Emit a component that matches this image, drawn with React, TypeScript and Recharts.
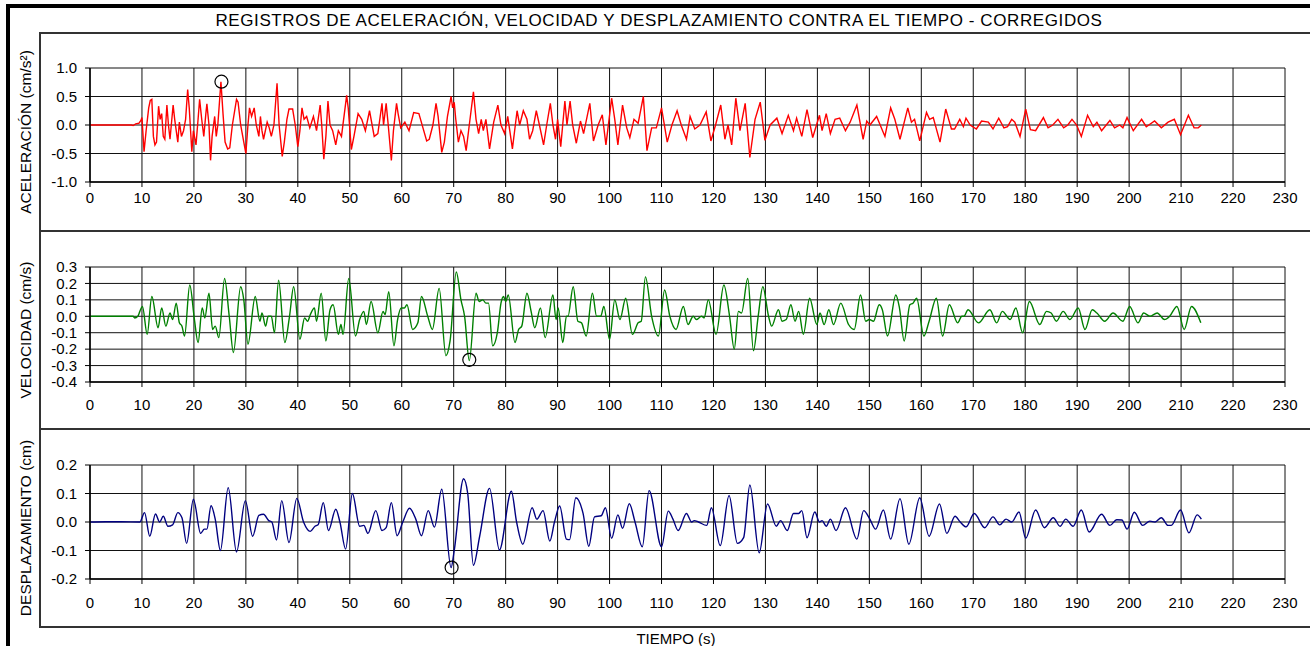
import React from "react"
import {
  LineChart,
  Line,
  XAxis,
  YAxis,
  CartesianGrid,
  ReferenceDot,
} from "recharts"

const FONT = "'Liberation Sans', Arial, sans-serif"

const timeTicks = [0, 10, 20, 30, 40, 50, 60, 70, 80, 90, 100, 110, 120, 130, 140, 150, 160, 170, 180, 190, 200, 210, 220, 230]
const accTicks = [-1, -0.5, 0, 0.5, 1]
const velTicks = [-0.4, -0.3, -0.2, -0.1, 0, 0.1, 0.2, 0.3]
const dispTicks = [-0.2, -0.1, 0, 0.1, 0.2]

// [tiempo (s), valor]
const accel: [number, number][] = [
  [0, 0], [8, 0], [8.3, -0.01], [8.8, 0.02], [9.4, 0.03], [9.8, 0.08], [10, 0.13], [10.4, -0.47], [10.8, -0.1],
  [11.3, 0.3], [11.6, 0.43], [11.9, 0.45], [12.2, -0.2], [12.5, -0.35], [12.8, -0.3], [13.2, 0.33], [13.5, 0.1],
  [13.8, 0.2], [14.1, -0.2], [14.4, -0.25], [14.8, 0.35], [15.1, 0], [15.4, -0.25], [16, 0.35], [16.3, 0.1],
  [16.9, -0.3], [17.2, 0.05], [17.6, -0.2], [18, -0.1], [18.4, 0.1], [18.8, 0.62], [19.1, 0.3], [19.6, -0.47],
  [19.9, -0.1], [20.4, -0.35], [20.8, 0.1], [21.1, 0.45], [21.5, 0.1], [21.9, -0.2], [22.3, 0.2], [22.5, 0.37],
  [22.9, 0], [23.2, -0.62], [23.5, -0.2], [24, 0.15], [24.3, -0.2], [24.6, 0], [25.2, 0.76], [25.6, 0.2],
  [26, -0.3], [26.5, -0.42], [26.9, -0.4], [27.4, 0], [28.2, 0.45], [28.5, 0.4], [29, 0], [29.6, -0.3],
  [30, -0.5], [30.4, 0], [30.7, 0.3], [31.1, 0.15], [31.6, 0.3], [32, 0], [32.5, -0.2], [32.8, 0.15],
  [33.1, -0.1], [33.4, -0.25], [34.1, 0.05], [34.5, -0.05], [34.9, -0.2], [35.4, 0], [36, 0.73], [36.4, 0],
  [37, -0.55], [37.4, -0.3], [37.9, 0.1], [38.3, 0.28], [39, 0.28], [39.5, 0], [40, -0.38], [40.4, -0.1],
  [40.8, 0.3], [41.2, 0.1], [41.7, 0.15], [42.3, -0.05], [43, 0.15], [43.6, -0.1], [44.3, 0.35], [44.6, 0],
  [45, -0.6], [45.4, -0.2], [45.8, 0.42], [46.2, 0], [46.7, -0.1], [47.3, -0.35], [47.8, -0.1], [48.4, -0.2],
  [49.4, 0.52], [49.7, 0.3], [50.3, -0.43], [50.8, -0.2], [51.6, 0.2], [52.3, 0.1], [53, -0.1], [53.8, 0.25],
  [54.3, 0], [54.7, -0.2], [55.4, -0.15], [56.2, 0.38], [56.5, 0], [57, 0.38], [57.4, 0], [58, -0.62],
  [58.4, -0.1], [59, 0.38], [59.3, 0.2], [59.8, -0.05], [60.6, 0.05], [61.4, -0.1], [62.3, 0.22], [63.3, 0.2],
  [64.8, -0.28], [65.3, -0.25], [66, 0], [66.6, 0.38], [67, 0.15], [67.7, -0.48], [68.2, -0.3], [68.8, 0.15],
  [69.5, 0.5], [69.8, 0.3], [70.1, 0.4], [70.4, 0.1], [70.9, -0.3], [71.4, -0.1], [71.9, -0.2], [72.4, -0.45],
  [73, 0], [73.8, 0.58], [74.3, 0.1], [74.8, -0.15], [75.3, 0.1], [75.7, -0.1], [76.2, 0.1], [76.9, -0.42],
  [77.7, 0.05], [78.5, 0.35], [79.1, 0], [79.8, -0.15], [80.4, 0.15], [81.3, -0.42], [82.2, 0.25], [82.7, 0],
  [83.4, 0.25], [84.1, 0.1], [84.6, -0.25], [85.2, -0.1], [85.9, 0.25], [86.5, 0], [87.3, -0.35], [87.9, 0],
  [88.6, 0.38], [89.1, 0], [89.6, -0.25], [90, 0.1], [90.6, -0.38], [91.4, 0.42], [91.8, 0], [92.4, 0.42],
  [92.9, 0], [93.6, -0.32], [94.4, 0.07], [95, -0.15], [96.2, 0.38], [96.9, -0.28], [97.8, 0], [98.6, 0.18],
  [99.3, -0.35], [100.4, 0.47], [101, 0.1], [101.6, -0.35], [102.5, 0.35], [103.3, -0.05], [103.9, -0.22],
  [104.7, 0.1], [105.5, 0.03], [106.5, 0.5], [107.2, -0.45], [108.1, -0.05], [109, -0.05], [110, 0.3],
  [111.1, -0.3], [112, 0], [113, 0.25], [113.8, 0], [114.8, -0.25], [115.5, 0.15], [116.4, -0.07], [117.4, 0],
  [118.6, 0.23], [119.5, -0.28], [120.4, 0], [121.4, 0.35], [122.2, -0.25], [122.8, 0], [123.5, -0.35],
  [124.3, 0.47], [125.1, -0.1], [126.1, 0.38], [127, -0.57], [128, 0.1], [129, 0.4], [129.9, -0.27], [130.9, 0],
  [132.2, 0.12], [133.2, -0.15], [134.4, 0.17], [135.4, -0.1], [136, 0.12], [137, -0.2], [138, 0.27],
  [139.1, -0.22], [140.4, 0.17], [140.9, -0.1], [141.7, 0.2], [142.5, -0.15], [143.4, 0.1], [144.3, 0.12],
  [145.4, -0.1], [146.3, 0.05], [147.6, 0.35], [148.8, -0.25], [149.5, 0.07], [150.1, 0], [151.4, 0.15],
  [153, -0.2], [154.1, 0.3], [154.9, 0.1], [155.9, -0.25], [157.4, 0.3], [158.1, 0.05], [158.7, 0.1],
  [159.7, -0.28], [161, 0.22], [161.6, 0.1], [162.3, 0.13], [163.6, -0.3], [164.7, 0.28], [165.8, -0.07],
  [166.4, -0.07], [167.4, 0.1], [168.1, -0.03], [168.6, 0.12], [169.4, 0], [170.6, -0.07], [171.6, 0.07],
  [172.9, 0.05], [173.8, -0.07], [174.9, 0.12], [175.9, -0.05], [176.6, -0.03], [177.4, 0.1], [178, 0.05],
  [179, -0.2], [180.1, 0.28], [181, -0.08], [182, -0.1], [183.5, 0.13], [184.4, -0.05], [185.3, 0],
  [186.3, 0.1], [187.4, -0.05], [188.2, 0], [189, 0.1], [189.9, 0], [190.8, -0.2], [192, 0.17], [193.1, -0.03],
  [193.8, 0.05], [194.7, -0.1], [196.3, 0.08], [197.2, -0.05], [198.2, 0], [198.8, -0.05], [199.6, 0.13],
  [200.8, -0.1], [202.4, 0.1], [203.3, -0.03], [204.9, 0.07], [206.2, -0.05], [207.5, 0.05], [208.7, 0.1],
  [209.9, -0.17], [211.4, 0.17], [212.5, -0.05], [213.3, -0.05], [213.9, 0],
]

const veloc: [number, number][] = [
  [0, 0], [8.3, 0], [8.6, -0.01], [9.2, 0], [9.6, 0.03], [10.1, 0.06], [11, -0.11], [11.9, 0.12], [13.1, -0.07],
  [13.8, 0.05], [14.6, -0.06], [15.4, 0.02], [15.9, -0.02], [16.6, 0.08], [17.2, -0.04], [17.7, -0.06],
  [18.2, -0.12], [19.2, 0.19], [20.1, -0.02], [20.8, -0.16], [21.6, 0.05], [22.1, -0.01], [22.9, 0.14],
  [23.6, -0.08], [24.1, -0.06], [24.8, -0.13], [25.9, 0.23], [26.8, 0], [27.6, -0.22], [29, 0.18], [29.6, 0.1],
  [30.4, -0.17], [31.8, 0.12], [32.7, -0.03], [33.1, 0.02], [33.8, -0.06], [34.3, 0], [34.9, 0], [35.5, -0.1],
  [36.3, 0.22], [37.5, -0.16], [38.4, 0], [39.2, 0.18], [40.4, -0.14], [41.3, -0.01], [41.9, -0.03],
  [42.4, 0.01], [43.2, 0.05], [43.6, -0.03], [44.5, 0.14], [45.4, -0.15], [46.2, 0.04], [46.8, 0.07],
  [47.8, -0.11], [48.3, -0.05], [48.7, -0.11], [49.8, 0.23], [51.1, -0.12], [51.9, -0.02], [52.7, 0.03],
  [53.2, -0.05], [54.1, 0.09], [55.4, -0.1], [56.4, 0.03], [56.8, 0.01], [57.5, 0.15], [58.5, -0.18],
  [59.2, -0.02], [59.9, 0.05], [60.5, 0.05], [61, 0.07], [62.1, -0.08], [63.1, -0.04], [63.8, 0.12], [65, 0],
  [65.9, -0.08], [67.2, 0.17], [68.5, -0.24], [69.3, -0.15], [70.5, 0.27], [71.4, 0.1], [72.1, 0], [73, -0.27],
  [74.3, 0.14], [74.9, 0.09], [75.6, 0.1], [76.2, 0.08], [76.7, 0.08], [77.5, -0.18], [78.4, -0.1], [79.1, 0.08],
  [79.6, 0.12], [80, 0.09], [80.5, 0.13], [81.8, -0.16], [82.5, -0.08], [83.1, -0.06], [84.1, 0.14], [84.9, 0.03],
  [85.6, -0.07], [86.7, 0.05], [87.6, -0.13], [89.1, 0.13], [89.7, -0.02], [90.1, 0.05], [91, -0.16], [91.7, 0],
  [92, 0], [93, 0.18], [93.9, -0.03], [94.6, -0.04], [95.5, -0.12], [96.7, 0.14], [97.5, 0], [98.3, 0],
  [98.9, 0.06], [100, -0.14], [101, 0.1], [102, -0.02], [103.1, 0.11], [104.4, -0.11], [105.5, -0.04],
  [106.1, -0.03], [106.9, 0.24], [108.1, 0], [109.4, -0.12], [110.6, 0.16], [111.6, 0], [112.8, -0.08],
  [114.2, 0.06], [115.1, -0.05], [116.1, 0], [116.7, -0.02], [117.7, 0], [118.2, -0.01], [119, 0.1],
  [120.5, -0.11], [122, 0.19], [123.1, 0], [124, -0.2], [124.8, 0.03], [125.4, 0.02], [126.6, 0.23],
  [127.7, -0.21], [128.6, 0], [129.5, 0.18], [130.6, 0], [131.2, -0.06], [132.5, 0.04], [133.2, -0.03],
  [134, -0.02], [134.9, 0.07], [135.7, -0.03], [136.4, 0.03], [137.3, -0.11], [138.5, 0.11], [139.9, -0.05],
  [140.5, 0.02], [141.3, -0.05], [142.2, 0.04], [143.1, -0.05], [144.5, 0.08], [146, -0.05], [147.1, -0.08],
  [148.3, 0.13], [149.3, -0.03], [150, -0.02], [150.8, -0.03], [151.9, 0.07], [152.5, 0.04], [153.5, -0.12],
  [155.1, 0.13], [155.8, 0.05], [156.7, -0.15], [157.8, 0.07], [158.4, 0.08], [159.1, 0.11], [160.5, -0.12],
  [161.5, -0.03], [162.9, 0.11], [164.1, -0.12], [165.4, 0.07], [167, -0.04], [167.8, 0], [168.2, 0],
  [169, 0.04], [171, -0.04], [173.2, 0.04], [174.5, -0.04], [175.6, 0.03], [177.1, -0.02], [178.2, 0.05],
  [179.5, -0.1], [180.8, 0.09], [182.8, -0.05], [184.1, 0.03], [185, 0.02], [186, -0.03], [187.3, 0.03],
  [188.6, -0.02], [190.2, 0.05], [191.5, -0.08], [192.9, 0.04], [193.8, 0.02], [195.3, -0.03], [196.9, 0.02],
  [198.8, -0.03], [200.1, 0.06], [201.7, -0.04], [202.8, 0.02], [204, 0], [205.4, 0.02], [206.8, -0.02],
  [207.8, 0], [209.2, 0.06], [210.6, -0.08], [212, 0.06], [213.8, -0.04],
]

const despl: [number, number][] = [
  [0, 0], [3, 0.001], [6, 0.001], [9.6, 0], [10.5, 0.033], [11.5, -0.05], [12.6, 0.028], [13.4, 0], [14.1, 0.02],
  [15, -0.015], [15.9, -0.01], [16.9, 0.033], [17.7, 0.015], [18.6, -0.075], [19.9, 0.08], [21.3, -0.04],
  [22, -0.025], [22.5, -0.025], [23.3, 0.057], [24.1, 0.01], [25.1, -0.1], [26.6, 0.12], [28.2, -0.105],
  [29.9, 0.075], [31.3, -0.05], [32.5, 0.023], [33.4, 0.027], [34.4, 0.005], [35, 0], [35.9, -0.063],
  [36.9, 0.075], [38.3, -0.072], [39.8, 0.083], [41.1, 0], [42.4, -0.033], [43.3, -0.015], [43.9, -0.01],
  [44.9, 0.068], [45.9, -0.03], [47.3, 0.045], [48.1, 0], [49.2, -0.095], [50.5, 0.1], [51.9, -0.015],
  [52.7, -0.012], [53.5, -0.04], [55, 0.04], [56.2, -0.03], [57, -0.02], [58, 0.068], [59.1, -0.048], [60.2, 0],
  [61.5, 0.048], [62.7, 0.01], [63.8, -0.048], [65.1, 0.04], [66.3, -0.018], [67.7, 0.115], [69.5, -0.16],
  [70.1, -0.1], [71.9, 0.152], [72.7, 0.1], [73.8, -0.152], [75, -0.05], [76.9, 0.118], [78.8, -0.098],
  [81.1, 0.108], [82.1, 0], [83.3, -0.078], [85.1, 0.05], [86, 0.01], [87.2, 0.04], [88.5, -0.067], [89.4, 0],
  [90.4, 0.056], [91.7, -0.06], [92.3, -0.062], [93.5, 0.085], [94.9, 0.03], [96, -0.085], [97.1, 0.018],
  [98.4, 0.022], [99.2, 0.05], [100.4, -0.057], [101.6, 0.025], [102.5, -0.022], [103.8, 0.064], [104.9, 0],
  [106.3, -0.087], [107.6, 0.11], [110, -0.087], [111.3, 0.038], [112.2, 0.01], [113.2, -0.03], [114.8, 0.03],
  [115.8, 0], [116.3, 0.005], [117.1, 0], [118.7, -0.012], [119.6, 0.05], [121.3, -0.083], [123, 0.093],
  [124.6, -0.075], [125.8, -0.055], [127, 0.13], [128.8, -0.108], [130.4, 0.063], [132.1, -0.015],
  [132.9, 0.005], [134.2, -0.03], [135.4, 0.03], [136.4, 0.03], [137, 0.04], [138, -0.055], [139.5, 0.035],
  [140.4, 0], [140.9, 0.005], [141.7, -0.015], [142.5, 0.01], [143.6, -0.03], [145.4, 0.05], [147.6, -0.06],
  [148.9, 0.04], [150.1, 0.01], [151.2, -0.025], [152.7, 0.042], [154.1, -0.06], [155.9, 0.082],
  [157.6, -0.078], [159.7, 0.085], [161.5, -0.05], [163.5, 0.063], [164.9, -0.04], [166.5, 0.02], [167.5, 0],
  [168.6, -0.017], [170.2, 0.03], [172.2, -0.02], [173.8, 0.018], [175.1, -0.01], [176.3, 0.01], [177.4, 0],
  [178.8, 0.035], [180.1, -0.057], [182, 0.042], [183.7, -0.02], [185.4, 0.015], [186.7, -0.015],
  [187.8, 0.01], [189.2, -0.015], [190.8, 0.042], [192.3, -0.035], [194.7, 0.027], [196.3, -0.012],
  [197.6, 0.008], [198.6, 0.007], [199.6, -0.025], [201, 0.034], [202.6, -0.012], [204, 0.003], [205, 0],
  [206.2, 0.015], [207.5, -0.012], [208.1, -0.012], [209.9, 0.042], [211.5, -0.038], [213.1, 0.025],
  [213.9, 0.01],
]

// puntos marcados con circulo (maximos absolutos)
const accPeak: [number, number] = [25.3, 0.76]
const velPeak: [number, number] = [73, -0.265]
const dispPeak: [number, number] = [69.6, -0.16]

type PanelProps = {
  top: number
  data: [number, number][]
  color: string
  ticks: number[]
  label: string
  peak: [number, number]
  curve: "linear" | "monotone"
  marginTop: number
  plotH: number
  xMargin: number
}

function Panel({ top, data, color, ticks, label, peak, curve, marginTop, plotH, xMargin }: PanelProps) {
  const rows = data.map(([t, v]) => ({ t, v }))
  const h = 198
  const axisH = 40
  return (
    <>
      <div
        style={{
          position: "absolute",
          left: 26 - h / 2,
          top: top + h / 2 - 10,
          width: h,
          height: 20,
          lineHeight: "20px",
          textAlign: "center",
          fontSize: 15.5,
          transform: "rotate(-90deg)",
          whiteSpace: "nowrap",
        }}
      >
        {label}
      </div>
      <div style={{ position: "absolute", left: 40, top }}>
        <LineChart
          width={1270}
          height={h}
          data={rows}
          margin={{ top: marginTop, right: 25, left: 0, bottom: h - marginTop - plotH - axisH }}
        >
          <CartesianGrid stroke="#111" strokeWidth={1} />
          <XAxis
            dataKey="t"
            type="number"
            domain={[0, 230]}
            ticks={timeTicks}
            interval={0}
            height={axisH}
            tickSize={5}
            tickMargin={xMargin}
            axisLine={{ stroke: "#000", strokeWidth: 1.5 }}
            tickLine={{ stroke: "#000" }}
            tick={{ fill: "#000", fontSize: 15, fontFamily: FONT }}
          />
          <YAxis
            type="number"
            domain={[ticks[0], ticks[ticks.length - 1]]}
            ticks={ticks}
            interval={0}
            width={50}
            tickSize={5}
            tickMargin={8}
            tickFormatter={(v: number) => v.toFixed(1)}
            axisLine={{ stroke: "#000", strokeWidth: 1.5 }}
            tickLine={{ stroke: "#000" }}
            tick={{ fill: "#000", fontSize: 15, fontFamily: FONT }}
          />
          <Line
            type={curve}
            dataKey="v"
            stroke={color}
            strokeWidth={1.4}
            dot={false}
            isAnimationActive={false}
          />
          <ReferenceDot x={peak[0]} y={peak[1]} r={6.5} fill="none" stroke="#000" strokeWidth={1.2} />
        </LineChart>
      </div>
    </>
  )
}

export default function App() {
  return (
    <div
      style={{
        position: "absolute",
        left: 0,
        top: 0,
        width: 1310,
        height: 646,
        overflow: "hidden",
        background: "#fff",
        fontFamily: FONT,
        color: "#000",
      }}
    >
      <div
        style={{
          position: "absolute",
          left: 6,
          top: 4,
          width: 1400,
          height: 800,
          border: "4px solid #000",
        }}
      />
      <div
        style={{
          position: "absolute",
          left: 0,
          top: 11,
          width: 1318,
          textAlign: "center",
          fontSize: 17,
          letterSpacing: 0.6,
          lineHeight: "20px",
          whiteSpace: "nowrap",
        }}
      >
        REGISTROS DE ACELERACIÓN, VELOCIDAD Y DESPLAZAMIENTO CONTRA EL TIEMPO - CORREGIDOS
      </div>
      {[32, 230, 428].map((t) => (
        <div
          key={t}
          style={{
            position: "absolute",
            left: 39,
            top: t,
            width: 1400,
            height: 200,
            border: "2px solid #333",
            boxSizing: "border-box",
          }}
        />
      ))}
      <Panel
        top={33}
        data={accel}
        color="#FF0000"
        ticks={accTicks}
        label="ACELERACIÓN (cm/s²)"
        peak={accPeak}
        curve="linear"
        marginTop={35}
        plotH={114}
        xMargin={5}
      />
      <Panel
        top={231}
        data={veloc}
        color="#008000"
        ticks={velTicks}
        label="VELOCIDAD (cm/s)"
        peak={velPeak}
        curve="monotone"
        marginTop={36}
        plotH={115}
        xMargin={12}
      />
      <Panel
        top={429}
        data={despl}
        color="#000080"
        ticks={dispTicks}
        label="DESPLAZAMIENTO (cm)"
        peak={dispPeak}
        curve="monotone"
        marginTop={36}
        plotH={114}
        xMargin={13}
      />
      <div
        style={{
          position: "absolute",
          left: 576,
          top: 630,
          width: 200,
          textAlign: "center",
          fontSize: 15,
          lineHeight: "18px",
        }}
      >
        TIEMPO (s)
      </div>
    </div>
  )
}
